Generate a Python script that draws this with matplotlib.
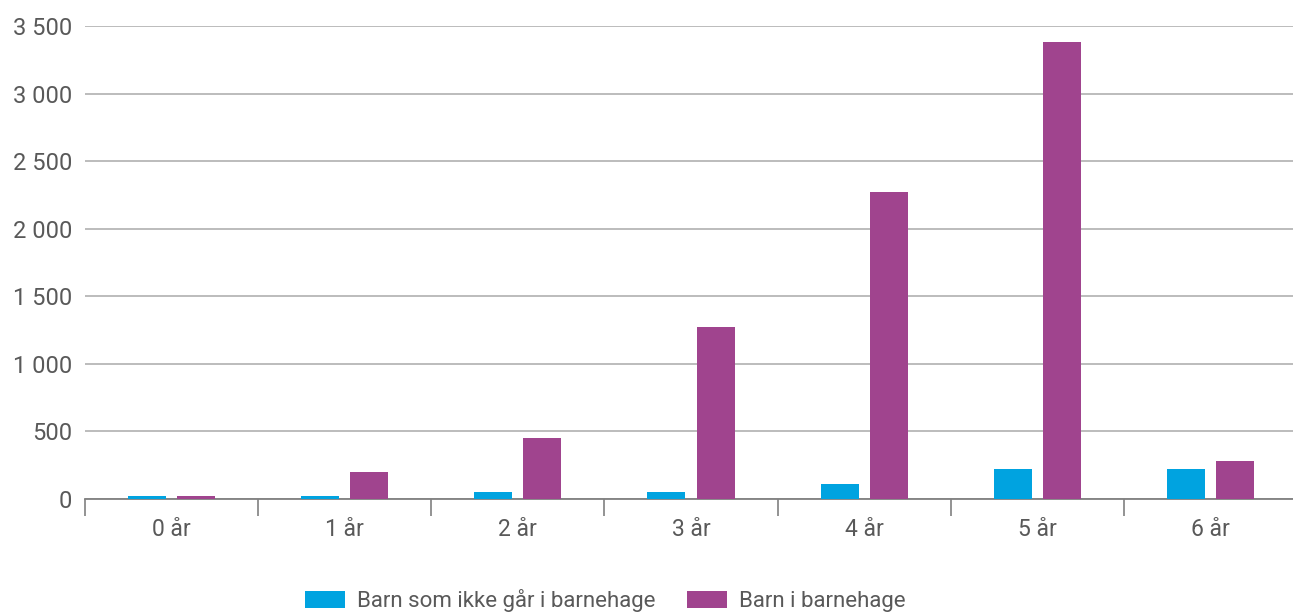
import matplotlib
matplotlib.use("Agg")
import matplotlib.pyplot as plt
import numpy as np
from matplotlib.ticker import FuncFormatter, FixedLocator

categories = ["0 år", "1 år", "2 år", "3 år", "4 år", "5 år", "6 år"]
not_in_kindergarten = [25, 25, 55, 55, 110, 225, 225]
in_kindergarten = [25, 200, 455, 1275, 2275, 3380, 280]
series_labels = ["Barn som ikke går i barnehage", "Barn i barnehage"]

plt.rcParams["font.family"] = ["Roboto", "DejaVu Sans"]
text_color = "#595959"

fig = plt.figure(figsize=(12.93, 6.13), dpi=100)
ax = fig.add_axes([85 / 1293, 1 - 499 / 613, 1212 / 1293, 473 / 613])

x = np.arange(len(categories))
w = 0.22
off = 0.142
ax.bar(x - off, not_in_kindergarten, width=w, color="#00a3e0", label=series_labels[0], zorder=3)
ax.bar(x + off, in_kindergarten, width=w, color="#a0448e", label=series_labels[1], zorder=3)

ax.set_xlim(-0.5, len(categories) - 0.5)
ax.set_ylim(0, 3500)
ax.yaxis.set_major_locator(FixedLocator(np.arange(0, 3501, 500)))
ax.yaxis.set_major_formatter(FuncFormatter(lambda v, p: f"{int(v):,}".replace(",", " ")))
ax.grid(axis="y", color="#b0b0b0", linewidth=1.2, zorder=0)
ax.set_axisbelow(True)

for s in ["top", "right", "left"]:
    ax.spines[s].set_visible(False)
ax.spines["bottom"].set_color("#808080")
ax.spines["bottom"].set_linewidth(1.3)

ax.set_xticks(x)
ax.set_xticklabels(categories, fontsize=16.5)
ax.set_xticks(np.arange(-0.5, len(categories)), minor=True)
ax.tick_params(axis="x", which="major", length=0, pad=14, labelcolor=text_color)
ax.tick_params(axis="x", which="minor", length=12, width=1.2, color="#808080", direction="out")
ax.tick_params(axis="y", length=0, pad=9, labelsize=17, labelcolor=text_color)

leg = fig.legend(loc="center", bbox_to_anchor=(0.468, 1 - 601 / 613), ncol=2, frameon=False,
                 prop={"size": 16}, handlelength=1.8, handleheight=0.8,
                 columnspacing=1.4, handletextpad=0.54)
for t in leg.get_texts():
    t.set_color(text_color)

fig.savefig("out.png", dpi=100)
